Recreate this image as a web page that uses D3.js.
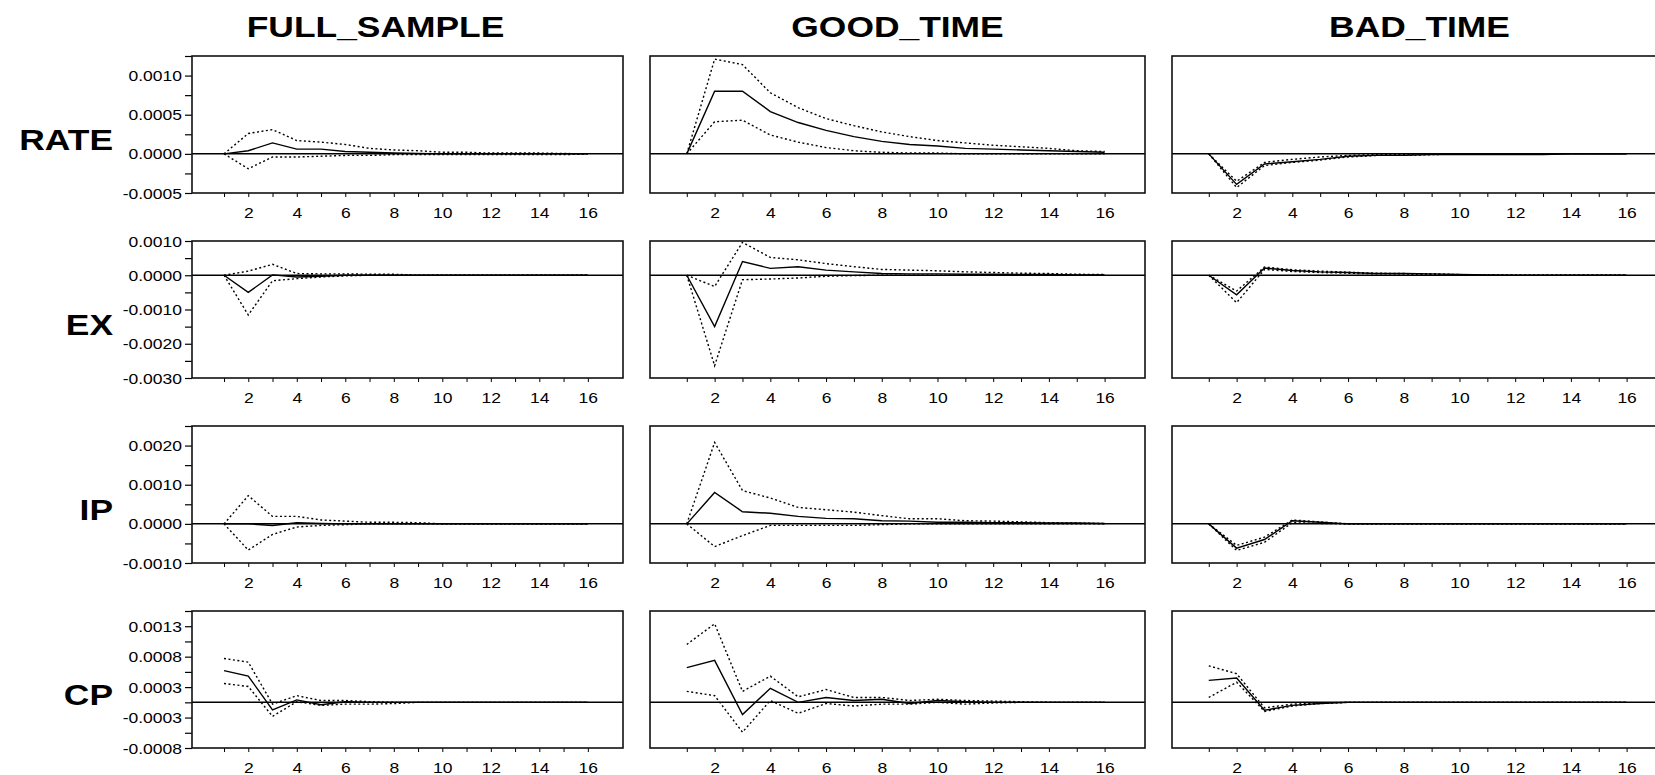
<!DOCTYPE html>
<html>
<head>
<meta charset="utf-8">
<script src="https://cdn.jsdelivr.net/npm/d3@7"></script>
<style>
  html, body { margin: 0; padding: 0; background: #fff; }
  svg { display: block; }
</style>
</head>
<body>
<svg id="chart" width="1655" height="775"></svg>
<script>
// ---------- panel labels ----------
const columnTitles = ["FULL_SAMPLE", "GOOD_TIME", "BAD_TIME"];
const rowNames = ["RATE", "EX", "IP", "CP"];

// ---------- horizon axis ----------
const steps = [1, 2, 3, 4, 5, 6, 7, 8, 9, 10, 11, 12, 13, 14, 15, 16];
const xLabelledSteps = [2, 4, 6, 8, 10, 12, 14, 16];
const xDomain = [-0.32, 17.45];

// ---------- vertical axes, one per row ----------
const rateDomain = [-0.0005, 0.00125];
const rateTicks = [-0.0005, -0.00025, 0, 0.00025, 0.0005, 0.00075, 0.001, 0.00125];
const rateTickLabels = ["-0.0005", "", "0.0000", "", "0.0005", "", "0.0010", ""];

const exDomain = [-0.003, 0.001];
const exTicks = [-0.003, -0.0025, -0.002, -0.0015, -0.001, -0.0005, 0, 0.0005, 0.001];
const exTickLabels = ["-0.0030", "", "-0.0020", "", "-0.0010", "", "0.0000", "", "0.0010"];

const ipDomain = [-0.001, 0.0025];
const ipTicks = [-0.001, -0.0005, 0, 0.0005, 0.001, 0.0015, 0.002, 0.0025];
const ipTickLabels = ["-0.0010", "", "0.0000", "", "0.0010", "", "0.0020", ""];

const cpDomain = [-0.00075, 0.0015];
const cpTicks = [-0.00075, -0.0005, -0.00025, 0, 0.00025, 0.0005, 0.00075, 0.001, 0.00125, 0.0015];
const cpTickLabels = ["-0.0008", "", "-0.0003", "", "0.0003", "", "0.0008", "", "0.0013", ""];

// ---------- impulse responses: point estimate (mid) and band (lo / up) ----------
// RATE
const full_RATE_mid = [0, 0.00004, 0.00014, 0.00006, 0.00006, 0.00003, 0.00002, 0.00001, 0.000005, 0, 0, 0, 0, 0, 0, 0];
const full_RATE_up  = [0, 0.00026, 0.00031, 0.00017, 0.00015, 0.00012, 0.00007, 0.00005, 0.00004, 0.00002, 0.00002, 0.00001, 0.00001, 0.00001, 0.000005, 0];
const full_RATE_lo  = [0, -0.00019, -0.00004, -0.00004, -0.00003, -0.00002, -0.00002, -0.00001, -0.00001, -0.00001, -0.00001, -0.00001, -0.00001, -0.00001, -0.00001, 0];
const good_RATE_mid = [0, 0.0008, 0.0008, 0.00054, 0.0004, 0.0003, 0.00022, 0.00016, 0.00012, 0.0001, 0.00007, 0.00006, 0.00005, 0.00004, 0.00003, 0.00002];
const good_RATE_up  = [0, 0.00121, 0.00114, 0.00078, 0.00059, 0.00045, 0.00036, 0.00028, 0.00022, 0.00017, 0.00014, 0.00011, 0.00009, 0.00007, 0.00004, 0.00003];
const good_RATE_lo  = [0, 0.00041, 0.00043, 0.00024, 0.00015, 0.00008, 0.00004, 0.00002, 0.00001, 0.00001, 0, 0, 0, 0, 0, 0];
const bad_RATE_mid  = [0, -0.00039, -0.00013, -0.0001, -0.00007, -0.00003, -0.00002, -0.00002, -0.00001, -0.00001, -0.00001, -0.00001, -0.00001, 0, 0, 0];
const bad_RATE_up   = [0, -0.00035, -0.00011, -0.00007, -0.00004, -0.00002, -0.00001, -0.00001, 0, 0, 0, 0, 0, 0, 0, 0];
const bad_RATE_lo   = [0, -0.00043, -0.00015, -0.00011, -0.00008, -0.00004, -0.00002, -0.00002, -0.00001, 0, 0, 0, 0, 0, 0, 0];

// EX
const full_EX_mid = [0, -0.0005, 0.00001, -0.00005, -0.00003, 0, 0, 0, 0, 0, 0, 0, 0, 0, 0, 0];
const full_EX_up  = [0, 0.00012, 0.00032, 0.00005, 0.00004, 0.00004, 0.00003, 0.00003, 0, 0, 0, 0, 0, 0, 0, 0];
const full_EX_lo  = [0, -0.00116, -0.00016, -0.0001, -0.00005, -0.00002, 0, 0, 0, 0, 0, 0, 0, 0, 0, 0];
const good_EX_mid = [0, -0.0015, 0.0004, 0.0002, 0.00025, 0.00015, 0.0001, 0.00005, 0.00004, 0.00004, 0.00003, 0.00003, 0.00002, 0.00002, 0.00001, 0.00001];
const good_EX_up  = [0, -0.00033, 0.00096, 0.00052, 0.00045, 0.00034, 0.00025, 0.00017, 0.00015, 0.00013, 0.0001, 0.00008, 0.00006, 0.00005, 0.00003, 0.00002];
const good_EX_lo  = [0, -0.00264, -0.00013, -0.00011, -0.00008, -0.00003, -0.00001, 0, 0, 0, 0, 0, 0, 0, 0, 0];
const bad_EX_mid  = [0, -0.00057, 0.00021, 0.00014, 0.0001, 0.00008, 0.00005, 0.00005, 0.00004, 0.00002, 0.00001, 0, 0, 0, 0, 0];
const bad_EX_up   = [0, -0.00046, 0.00024, 0.00016, 0.00012, 0.00009, 0.00006, 0.00005, 0.00004, 0.00002, 0.00001, 0, 0, 0, 0, 0];
const bad_EX_lo   = [0, -0.0008, 0.00017, 0.00011, 0.00008, 0.00006, 0.00004, 0.00004, 0.00003, 0.00001, 0, 0, 0, 0, 0, 0];

// IP
const full_IP_mid = [0, 0, -0.00004, 0.00003, 0.00001, 0, 0, 0, 0, 0, 0, 0, 0, 0, 0, 0];
const full_IP_up  = [0, 0.00072, 0.00019, 0.00019, 0.0001, 0.00007, 0.00004, 0.00004, 0.00003, 0, 0, 0, 0, 0, 0, 0];
const full_IP_lo  = [0, -0.00067, -0.00027, -0.00008, -0.00004, -0.00002, 0, 0, 0, 0, 0, 0, 0, 0, 0, 0];
const good_IP_mid = [0, 0.0008, 0.00031, 0.00027, 0.00019, 0.00014, 0.00013, 0.00008, 0.00007, 0.00004, 0.00004, 0.00003, 0.00003, 0.00002, 0.00002, 0.00001];
const good_IP_up  = [0, 0.00208, 0.00085, 0.00066, 0.00042, 0.00036, 0.0003, 0.00021, 0.00013, 0.00013, 0.00008, 0.00007, 0.00005, 0.00003, 0.00002, 0.00001];
const good_IP_lo  = [0, -0.00058, -0.0003, -0.00004, -0.00004, -0.00004, -0.00004, -0.00002, 0, 0, 0, 0, 0, 0, 0, 0];
const bad_IP_mid  = [0, -0.00062, -0.0004, 0.00008, 0.00004, 0, 0, 0, 0, 0, 0, 0, 0, 0, 0, 0];
const bad_IP_up   = [0, -0.00055, -0.00034, 0.0001, 0.00005, 0, 0, 0, 0, 0, 0, 0, 0, 0, 0, 0];
const bad_IP_lo   = [0, -0.00068, -0.00047, 0.00003, 0.00001, 0, 0, 0, 0, 0, 0, 0, 0, 0, 0, 0];

// CP
const full_CP_mid = [0.00052, 0.00043, -0.000125, 0.00004, -0.00004, 0.00001, 0, 0, 0, 0, 0, 0, 0, 0, 0, 0];
const full_CP_up  = [0.00072, 0.00066, -0.00003, 0.00011, 0.00003, 0.00003, 0.00001, 0, 0, 0, 0, 0, 0, 0, 0, 0];
const full_CP_lo  = [0.00031, 0.00026, -0.00023, 0.00001, -0.00005, -0.00003, -0.00003, -0.00002, 0, 0, 0, 0, 0, 0, 0, 0];
const good_CP_mid = [0.00057, 0.00069, -0.0002, 0.00023, 0, 0.00008, 0.00003, 0.00005, -0.00002, 0.00003, 0.00001, 0, 0, 0, 0, 0];
const good_CP_up  = [0.00095, 0.00129, 0.00018, 0.00043, 0.00009, 0.00021, 0.00008, 0.00008, 0.00003, 0.00005, 0.00003, 0.00002, 0.00001, 0, 0, 0];
const good_CP_lo  = [0.00018, 0.00011, -0.00049, 0.00003, -0.00018, -0.00002, -0.00006, -0.00003, -0.00003, 0, -0.00003, -0.00001, 0, 0, 0, 0];
const bad_CP_mid  = [0.00036, 0.0004, -0.00013, -0.00005, -0.00002, 0, 0, 0, 0, 0, 0, 0, 0, 0, 0, 0];
const bad_CP_up   = [0.0006, 0.00047, -0.00009, -0.00003, -0.00001, 0, 0, 0, 0, 0, 0, 0, 0, 0, 0, 0];
const bad_CP_lo   = [0.00008, 0.00033, -0.00015, -0.00006, -0.00002, 0, 0, 0, 0, 0, 0, 0, 0, 0, 0, 0];

// ---------- lookup tables built from the arrays above ----------
const rowAxes = {
  RATE: { domain: rateDomain, ticks: rateTicks, labels: rateTickLabels },
  EX:   { domain: exDomain,   ticks: exTicks,   labels: exTickLabels },
  IP:   { domain: ipDomain,   ticks: ipTicks,   labels: ipTickLabels },
  CP:   { domain: cpDomain,   ticks: cpTicks,   labels: cpTickLabels }
};

const responses = {
  RATE: {
    FULL_SAMPLE: { lo: full_RATE_lo, mid: full_RATE_mid, up: full_RATE_up },
    GOOD_TIME:   { lo: good_RATE_lo, mid: good_RATE_mid, up: good_RATE_up },
    BAD_TIME:    { lo: bad_RATE_lo,  mid: bad_RATE_mid,  up: bad_RATE_up }
  },
  EX: {
    FULL_SAMPLE: { lo: full_EX_lo, mid: full_EX_mid, up: full_EX_up },
    GOOD_TIME:   { lo: good_EX_lo, mid: good_EX_mid, up: good_EX_up },
    BAD_TIME:    { lo: bad_EX_lo,  mid: bad_EX_mid,  up: bad_EX_up }
  },
  IP: {
    FULL_SAMPLE: { lo: full_IP_lo, mid: full_IP_mid, up: full_IP_up },
    GOOD_TIME:   { lo: good_IP_lo, mid: good_IP_mid, up: good_IP_up },
    BAD_TIME:    { lo: bad_IP_lo,  mid: bad_IP_mid,  up: bad_IP_up }
  },
  CP: {
    FULL_SAMPLE: { lo: full_CP_lo, mid: full_CP_mid, up: full_CP_up },
    GOOD_TIME:   { lo: good_CP_lo, mid: good_CP_mid, up: good_CP_up },
    BAD_TIME:    { lo: bad_CP_lo,  mid: bad_CP_mid,  up: bad_CP_up }
  }
};

// ---------- layout ----------
const FONT = "'Liberation Sans', Arial, Helvetica, sans-serif";
const panelLeft0 = 128;     // left edge of the first panel (incl. its value axis)
const panelPitch = 522;     // distance between panel left edges
const panelWidth = 495;     // width of a plot frame
const valueAxisSpace = 64;  // room for the value labels in the first column
const frameTop0 = 56;
const rowPitch = 185;
const frameHeight = 137;
const tickFont = 14, tickStretch = 1.25;
const headFont = 30, headStretch = 1.18;

const svg = d3.select("#chart");

// column titles
columnTitles.forEach((title, c) => {
  const cx = panelLeft0 + c * panelPitch + panelWidth / 2;
  svg.append("text")
    .attr("transform", `translate(${cx},37) scale(${headStretch},1)`)
    .attr("text-anchor", "middle")
    .attr("font-family", FONT)
    .attr("font-weight", "bold")
    .attr("font-size", headFont)
    .attr("fill", "#000")
    .text(title);
});

rowNames.forEach((rowName, r) => {
  const top = frameTop0 + r * rowPitch;
  const bottom = top + frameHeight;
  const axisInfo = rowAxes[rowName];

  // row label
  svg.append("text")
    .attr("transform", `translate(113,${(top + bottom) / 2 + 25.5}) scale(${headStretch},1)`)
    .attr("text-anchor", "end")
    .attr("font-family", FONT)
    .attr("font-weight", "bold")
    .attr("font-size", headFont)
    .attr("fill", "#000")
    .text(rowName);

  columnTitles.forEach((colName, c) => {
    const left = panelLeft0 + c * panelPitch + (c === 0 ? valueAxisSpace : 0);
    const right = panelLeft0 + c * panelPitch + panelWidth;

    const x = d3.scaleLinear().domain(xDomain).range([left, right]);
    const y = d3.scaleLinear().domain(axisInfo.domain).range([bottom, top]);

    const g = svg.append("g");

    // horizon axis below the frame
    const xAxis = d3.axisBottom(x)
      .tickValues(steps)
      .tickSize(4)
      .tickFormat(d => xLabelledSteps.includes(d) ? String(d) : "");
    const gx = g.append("g").attr("transform", `translate(0,${bottom})`).call(xAxis);
    gx.select(".domain").remove();
    gx.selectAll(".tick line").attr("stroke", "#000").attr("stroke-width", 1);
    gx.selectAll(".tick text")
      .attr("y", null).attr("dy", null)
      .attr("transform", `translate(0,25) scale(${tickStretch},1)`)
      .attr("font-family", FONT)
      .attr("font-size", tickFont)
      .attr("fill", "#000");

    // value axis, first column only
    if (c === 0) {
      const yAxis = d3.axisLeft(y)
        .tickValues(axisInfo.ticks)
        .tickSize(7)
        .tickFormat((d, i) => axisInfo.labels[i]);
      const gy = g.append("g").attr("transform", `translate(${left},0)`).call(yAxis);
      gy.select(".domain").remove();
      gy.selectAll(".tick line").attr("stroke", "#000").attr("stroke-width", 1.2);
      gy.selectAll(".tick text")
        .attr("x", null).attr("dy", null)
        .attr("transform", `translate(-10,5) scale(${tickStretch},1)`)
        .attr("font-family", FONT)
        .attr("font-size", tickFont)
        .attr("fill", "#000");
    }

    // zero line
    g.append("line")
      .attr("x1", left).attr("x2", right)
      .attr("y1", y(0)).attr("y2", y(0))
      .attr("stroke", "#000")
      .attr("stroke-width", 1.5);

    const line = d3.line()
      .x((d, i) => x(steps[i]))
      .y(d => y(d));

    const series = responses[rowName][colName];

    // error bands (dotted)
    [series.up, series.lo].forEach(band => {
      g.append("path")
        .attr("d", line(band))
        .attr("fill", "none")
        .attr("stroke", "#000")
        .attr("stroke-width", 1.4)
        .attr("stroke-dasharray", "2,2.5");
    });

    // point estimate (solid)
    g.append("path")
      .attr("d", line(series.mid))
      .attr("fill", "none")
      .attr("stroke", "#000")
      .attr("stroke-width", 1.4);

    // frame
    g.append("rect")
      .attr("x", left).attr("y", top)
      .attr("width", right - left).attr("height", bottom - top)
      .attr("fill", "none")
      .attr("stroke", "#111")
      .attr("stroke-width", 1.6);
  });
});
</script>
</body>
</html>
